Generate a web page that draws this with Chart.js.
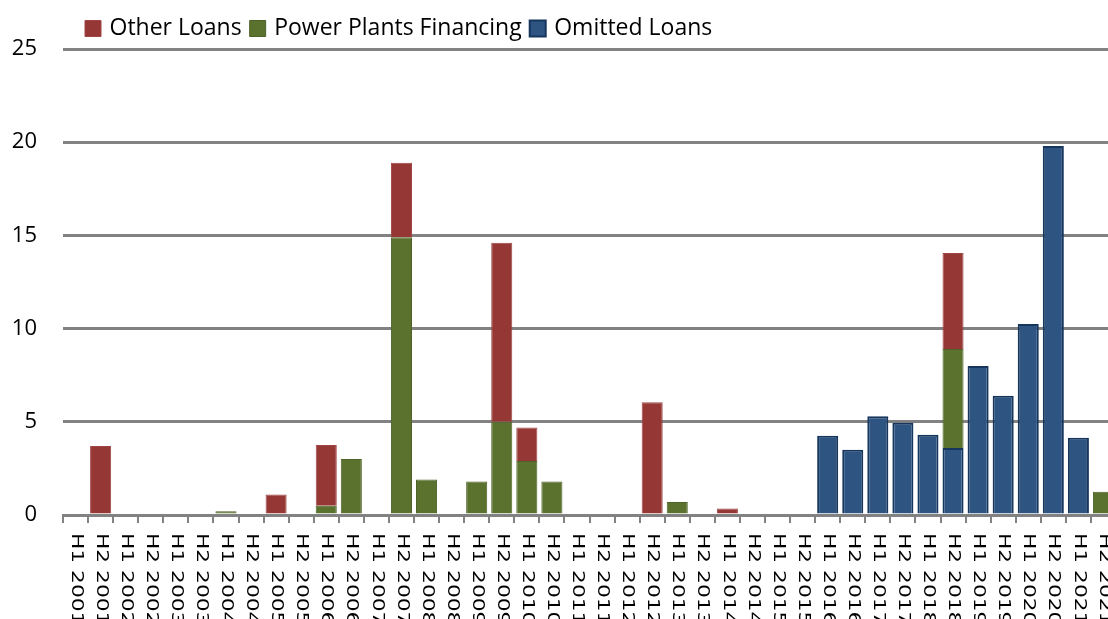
<!DOCTYPE html>
<html>
<head>
<meta charset="utf-8">
<script src="https://cdn.jsdelivr.net/npm/chart.js@4"></script>
<style>
  html, body { margin: 0; padding: 0; background: #ffffff; overflow: hidden; }
  #wrap { width: 1116px; height: 619px; }
</style>
</head>
<body>
<div id="wrap"><canvas id="c" width="1116" height="619"></canvas></div>
<script>
const categories = [
  'H1 2001','H2 2001','H1 2002','H2 2002','H1 2003','H2 2003','H1 2004','H2 2004',
  'H1 2005','H2 2005','H1 2006','H2 2006','H1 2007','H2 2007','H1 2008','H2 2008',
  'H1 2009','H2 2009','H1 2010','H2 2010','H1 2011','H2 2011','H1 2012','H2 2012',
  'H1 2013','H2 2013','H1 2014','H2 2014','H1 2015','H2 2015','H1 2016','H2 2016',
  'H1 2017','H2 2017','H1 2018','H2 2018','H1 2019','H2 2019','H1 2020','H2 2020',
  'H1 2021','H2 2021'
];
const otherLoans = [
  0, 3.7, 0, 0, 0, 0, 0, 0,
  1.1, 0, 3.25, 0, 0, 4.0, 0, 0,
  0, 9.6, 1.8, 0, 0, 0, 0, 6.05,
  0, 0, 0.35, 0, 0, 0, 0, 0,
  0, 0, 0, 5.15, 0, 0, 0, 0,
  0, 0
];
const powerPlants = [
  0, 0, 0, 0, 0, 0, 0.2, 0,
  0, 0, 0.5, 3.0, 0, 14.9, 1.9, 0,
  1.8, 5.0, 2.9, 1.8, 0, 0, 0, 0,
  0.7, 0, 0, 0, 0, 0, 0, 0,
  0, 0, 0, 5.3, 0, 0, 0, 0,
  0, 1.25
];
const omittedLoans = [
  0, 0, 0, 0, 0, 0, 0, 0,
  0, 0, 0, 0, 0, 0, 0, 0,
  0, 0, 0, 0, 0, 0, 0, 0,
  0, 0, 0, 0, 0, 0, 4.25, 3.5,
  5.3, 4.95, 4.3, 3.6, 8.0, 6.4, 10.25, 19.8,
  4.15, 0
];
const yTicks = [0, 5, 10, 15, 20, 25];

const GRID = '#828282';

const xLabelPlugin = {
  id: 'xLabels',
  afterDraw(chart) {
    const ctx = chart.ctx;
    const xs = chart.scales.x;
    ctx.save();
    ctx.fillStyle = '#000000';
    ctx.font = '15px "DejaVu Sans"';
    ctx.textAlign = 'left';
    ctx.textBaseline = 'middle';
    categories.forEach((lab, i) => {
      const px = xs.getPixelForValue(i);
      ctx.save();
      ctx.translate(px, chart.chartArea.bottom + 18);
      ctx.rotate(Math.PI / 2);
      ctx.scale(1.45, 1);
      ctx.fillText(lab, 0, 0);
      ctx.restore();
    });
    ctx.restore();
  }
};

const legendShift = {
  id: 'legendShift',
  afterLayout(chart) {
    const lg = chart.legend;
    if (lg) { lg.left += 77; lg.right += 77; lg.top += 1; lg.bottom += 1; }
  }
};

new Chart(document.getElementById('c'), {
  type: 'bar',
  data: {
    labels: categories,
    datasets: [
      { label: 'Omitted Loans', data: omittedLoans, backgroundColor: '#2E5482', borderColor: '#17365D', borderWidth: 2 },
      { label: 'Power Plants Financing', data: powerPlants, backgroundColor: '#5B722F', borderColor: '#4F6228', borderWidth: 1 },
      { label: 'Other Loans', data: otherLoans, backgroundColor: '#953735', borderColor: '#A04545', borderWidth: 1 }
    ]
  },
  options: {
    responsive: false,
    animation: false,
    devicePixelRatio: 1,
    layout: { padding: { top: 5, left: 0, right: 0, bottom: 0 } },
    datasets: { bar: { barPercentage: 0.84, categoryPercentage: 1.0 } },
    plugins: {
      tooltip: { enabled: false },
      legend: {
        position: 'top',
        align: 'start',
        reverse: true,
        labels: {
          usePointStyle: true,
          pointStyle: 'rect',
          boxWidth: 10,
          boxHeight: 16,
          padding: 11,
          color: '#000000',
          font: { family: '"Open Sans"', size: 23 }
        }
      }
    },
    scales: {
      x: {
        stacked: true,
        afterFit(s) { s.height = 104; },
        grid: { display: true, drawOnChartArea: false, drawTicks: true, tickLength: 8, color: GRID, lineWidth: 2, offset: true },
        border: { display: true, color: GRID, width: 3 },
        ticks: { display: false }
      },
      y: {
        stacked: true,
        min: 0,
        max: 25,
        afterFit(s) { s.width = 63; },
        afterBuildTicks(s) { s.ticks = yTicks.map(v => ({ value: v })); },
        grid: { color: GRID, lineWidth: 3, drawTicks: false },
        border: { display: false },
        ticks: { padding: 26, color: '#000000', font: { family: '"Open Sans"', size: 22 } }
      }
    }
  },
  plugins: [xLabelPlugin, legendShift]
});
</script>
</body>
</html>
